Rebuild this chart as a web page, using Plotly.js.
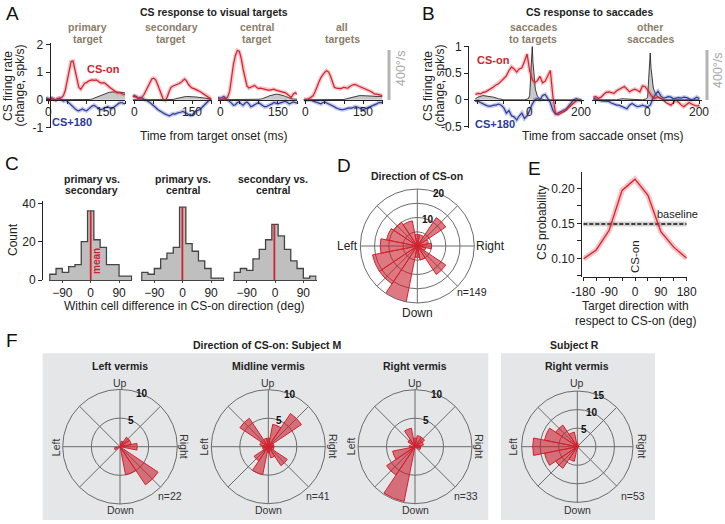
<!DOCTYPE html>
<html>
<head>
<meta charset="utf-8">
<script src="https://cdn.plot.ly/plotly-3.0.1.min.js"></script>
<style>body{margin:0;background:#fff}#fig{width:725px;height:524px}</style>
</head>
<body>
<div id="fig"></div>
<script>
// page is 725 x 524, everything placed in pixel terms then converted to paper
const W = 725, H = 524;
const fx = p => p / W;
const fy = p => 1 - p / H;
const FONT = 'Liberation Sans, Arial, sans-serif';
const RED = '#d3222e', BLUE = '#2b3a9b', BROWN = '#8c7d69', GRID = '#6b6b6b';

// ---- A: CS response to visual targets (time from target onset, ms) ----
const tA = [-5,0,5,10,15,20,25,30,35,40,45,50,55,60,65,70,75,80,85,90,95,100,105,110,115,120,125,130,135,140,145,150,155,160,165,170,175,180,185,190,195,200];

const primOn  = [0.02,0.00,0.03,0.05,0.02,0.00,0.04,0.06,0.08,0.15, 0.35,0.70,1.10,1.38,1.40,1.10,0.70,0.45,0.38,0.50, 0.60,0.62,0.68,0.70,0.72,0.70,0.72,0.68,0.62,0.60, 0.62,0.58,0.50,0.45,0.40,0.35,0.30,0.25,0.26,0.22, 0.20,0.18];
const primOpp = [0.08,0.05,0.00,0.06,0.02,-0.02,0.03,0.05,0.00,-0.05, -0.02,-0.05,-0.12,-0.20,-0.28,-0.32,-0.38,-0.40,-0.36,-0.33, -0.38,-0.40,-0.34,-0.28,-0.22,-0.20,-0.25,-0.30,-0.36,-0.35, -0.30,-0.28,-0.25,-0.30,-0.32,-0.28,-0.22,-0.18,-0.12,-0.10, -0.14,-0.15];
const primVel = [0,0,0,0,0,0,0,0,0,0, 0,0,0,0,0,0,0,0,0,0, 0,0,0,0.01,0.03,0.06,0.09,0.12,0.15,0.18, 0.21,0.23,0.25,0.27,0.28,0.29,0.29,0.28,0.28,0.27, 0.26,0.25];

const secOn  = [0.15,0.12,0.10,0.05,0.06,0.10,0.20,0.35,0.50,0.65, 0.75,0.78,0.72,0.55,0.35,0.15,0.00,-0.03,0.10,0.30, 0.45,0.50,0.52,0.55,0.58,0.62,0.70,0.75,0.68,0.55, 0.48,0.42,0.40,0.35,0.33,0.30,0.25,0.20,0.15,0.10, 0.06,0.04];
const secOpp = [0.10,0.15,0.12,0.05,0.08,0.05,0.02,0.00,-0.05,-0.10, -0.15,-0.20,-0.28,-0.35,-0.40,-0.45,-0.50,-0.52,-0.55,-0.58, -0.55,-0.50,-0.52,-0.48,-0.46,-0.45,-0.42,-0.45,-0.50,-0.55, -0.57,-0.55,-0.48,-0.40,-0.38,-0.35,-0.28,-0.20,-0.12,-0.05, 0.00,0.02];
const secVel = [0,0,0,0,0,0,0,0,0,0, 0,0,0,0,0,0,0,0,0,0, 0,0.01,0.03,0.05,0.07,0.09,0.10,0.11,0.12,0.12, 0.12,0.12,0.11,0.10,0.09,0.08,0.07,0.06,0.05,0.04, 0.03,0.03];

const cenOn  = [0.05,0.00,0.02,0.05,0.04,0.10,0.30,0.80,1.30,1.60, 1.78,1.75,1.50,1.10,0.75,0.50,0.42,0.45,0.50,0.52, 0.45,0.40,0.42,0.40,0.38,0.38,0.35,0.35,0.37,0.38, 0.35,0.33,0.32,0.30,0.28,0.25,0.20,0.15,0.08,0.20, 0.25,0.20];
const cenOpp = [0.10,0.05,0.08,0.12,0.05,0.00,-0.08,-0.12,-0.20,-0.18, -0.10,-0.08,-0.15,-0.20,-0.12,-0.08,-0.15,-0.25,-0.22,-0.18, -0.15,-0.10,-0.15,-0.20,-0.25,-0.25,-0.20,-0.18,-0.15,-0.10, -0.12,-0.15,-0.12,-0.10,-0.08,-0.05,-0.10,-0.15,-0.12,-0.08, -0.10,-0.12];
const cenVel = [0,0,0,0,0,0,0,0,0,0, 0,0,0,0,0,0,0,0,0,0, 0,0.01,0.02,0.04,0.06,0.09,0.12,0.15,0.17,0.19, 0.20,0.20,0.19,0.17,0.15,0.12,0.09,0.06,0.04,0.03, 0.02,0.02];

const allOn  = [0.00,0.00,0.02,0.05,0.10,0.15,0.30,0.50,0.65,0.80, 0.90,1.00,1.05,1.00,0.85,0.60,0.45,0.42,0.40,0.40, 0.42,0.45,0.43,0.42,0.48,0.52,0.55,0.55,0.50,0.48, 0.45,0.42,0.40,0.38,0.35,0.30,0.25,0.20,0.20,0.18, 0.16,0.15];
const allOpp = [0.00,0.00,0.00,0.00,-0.02,-0.05,-0.08,-0.10,-0.12,-0.15, -0.10,-0.08,-0.12,-0.15,-0.18,-0.20,-0.25,-0.30,-0.33,-0.35, -0.36,-0.35,-0.33,-0.30,-0.30,-0.30,-0.27,-0.25,-0.27,-0.30, -0.33,-0.35,-0.33,-0.30,-0.28,-0.25,-0.22,-0.20,-0.15,-0.10, -0.10,-0.10];
const allVel = [0,0,0,0,0,0,0,0,0,0, 0,0,0,0,0,0,0,0,0,0, 0,0.01,0.03,0.05,0.07,0.09,0.11,0.13,0.14,0.15, 0.15,0.15,0.15,0.14,0.14,0.13,0.13,0.12,0.12,0.12, 0.12,0.12];

// ---- B: CS response to saccades (time from saccade onset, ms) ----
const tB = [-210,-200,-190,-180,-170,-160,-150,-140,-130,-120,-110,-100,-90,-80,-70,-60,-50,-40,-30,-20,-10,0,10,20,30,40,50,60,70,80,90,100,110,120,130,140,150,160,170,180,190,200];
const tgtOn  = [0.10,0.12,0.11,0.14,0.15,0.18,0.20,0.24,0.28,0.30, 0.35,0.40,0.45,0.55,0.62,0.58,0.52,0.58,0.60,0.72, 0.86,0.55,0.38,0.32,0.36,0.44,0.32,0.35,0.45,0.55, 0.05,-0.25,-0.28,-0.25,-0.22,-0.20,-0.15,-0.10,-0.06,-0.02, 0.00,0.00];
const tgtOpp = [-0.03,-0.02,-0.05,-0.08,-0.10,-0.12,-0.12,-0.10,-0.10,-0.08, -0.10,-0.15,-0.25,-0.20,-0.30,-0.32,-0.38,-0.30,-0.25,-0.35, -0.30,-0.20,-0.08,0.00,0.02,0.00,0.08,0.10,0.02,-0.05, -0.20,-0.27,-0.25,-0.22,-0.20,-0.18,-0.12,-0.05,0.00,0.02, 0.00,-0.02];
const othOn  = [0.05,0.06,0.03,0.05,0.10,0.14,0.15,0.13,0.12,0.17, 0.20,0.22,0.25,0.20,0.15,0.18,0.20,0.18,0.15,0.26, 0.25,0.18,0.10,0.04,0.03,0.06,0.03,0.00,-0.05,-0.08, -0.10,-0.05,0.00,-0.05,-0.10,-0.13,-0.08,-0.05,-0.08,-0.10, -0.12,-0.10];
const othOpp = [0.03,0.02,0.00,-0.02,-0.02,-0.03,-0.03,-0.06,-0.08,-0.10, -0.10,-0.12,-0.15,-0.17,-0.10,-0.07,-0.10,-0.13,-0.12,-0.10, -0.12,-0.13,-0.10,0.02,0.10,0.16,0.08,0.03,0.04,0.06, 0.05,0.02,0.03,0.04,0.03,0.05,0.04,0.02,0.00,0.02, 0.05,0.02];
// eye speed, drawn in the same units as the firing rate
const tVel   = [-210,-200,-180,-160,-140,-120,-100,-20,-5,0,4,8,10,13,17,22,30,40,60,200];
const tgtVel = [0.02,0.05,0.08,0.07,0.05,0.02,0.00,0.00,0.02,0.08,0.50,0.95,1.00,0.70,0.40,0.20,0.07,0.02,0.00,0.00];
const othVel = [0.00,0.00,0.00,0.00,0.00,0.00,0.02,0.00,0.02,0.05,0.40,0.85,0.88,0.60,0.40,0.22,0.12,0.05,0.00,0.00];

// ---- C: within cell difference histograms ----
const hBins = [-120,-100,-80,-60,-40,-20,0,20,40,60,80,100,120];
const h1 = [3,6,4,7,8,20,36,21,17,8,8,2,2];
const h2 = [4,3,6,11,14,17,38,19,15,10,6,1,1];
const h3 = [4,6,5,11,16,21,29,23,16,10,6,1,2];
const hMean = [0,-1,-2];

// ---- E: CS probability vs target direction ----
const eDir = [-180,-135,-90,-45,0,45,90,135,180];
const eProb = [0.099,0.112,0.140,0.197,0.213,0.190,0.138,0.116,0.100];
const eBase = 0.149;

// ---- D, F: direction of CS-on (rose counts) ----
const pBins = [0,22.5,45,67.5,90,112.5,135,157.5,180,202.5,225,247.5,270,292.5,315,337.5];
const roseAll   = [5,4,12,4,4,9,10,11,13,16,16,21,4,5,12,3];
const roseLeft  = [3,2,2,1,0,0,0,0,0,1,0,0,0,5,8,0];
const roseMid   = [1,1,7,4,1.5,1.5,6,1.5,1,1,3,5,1,2,4,1];
const roseRight = [1,1.5,2,2,1.5,3.3,1.5,0,1,4,6,9.8,0,0,0,1];
const roseSubjR = [0.5,0,0.5,0.5,1,4,7,9,12,9,7,4,0.5,0,0,0];

// ---------------- traces ----------------
let data = [];

function velFill(xa, ya, t, v) {
  return {x: t, y: v, xaxis: xa, yaxis: ya, mode: 'lines', fill: 'tozeroy',
          fillcolor: '#c8c8c8', line: {color: '#111', width: 0.8}, hoverinfo: 'skip'};
}
function rateLines(xa, ya, t, on, opp) {
  const mk = (y, c, w) => ({x: t, y: y, xaxis: xa, yaxis: ya, mode: 'lines',
                            line: {color: c, width: w}, hoverinfo: 'skip'});
  return [mk(opp, 'rgba(60,75,180,0.3)', 4), mk(opp, BLUE, 1.2),
          mk(on, 'rgba(220,60,70,0.3)', 4), mk(on, RED, 1.2)];
}

data.push(velFill('x', 'y', tA, primVel), ...rateLines('x', 'y', tA, primOn, primOpp));
data.push(velFill('x2', 'y', tA, secVel), ...rateLines('x2', 'y', tA, secOn, secOpp));
data.push(velFill('x3', 'y', tA, cenVel), ...rateLines('x3', 'y', tA, cenOn, cenOpp));
data.push(velFill('x4', 'y', tA, allVel), ...rateLines('x4', 'y', tA, allOn, allOpp));
data.push(velFill('x5', 'y2', tVel, tgtVel), ...rateLines('x5', 'y2', tB, tgtOn, tgtOpp));
data.push(velFill('x6', 'y2', tVel, othVel), ...rateLines('x6', 'y2', tB, othOn, othOpp));

// histograms as filled stairs, bins 20 deg wide
function stairs(xa, counts, mean) {
  let xs = [hBins[0] - 10], ys = [0];
  for (let i = 0; i < counts.length; i++) { xs.push(hBins[i] - 10); ys.push(counts[i]); }
  xs.push(hBins[hBins.length - 1] + 10); ys.push(0);
  return [
    {x: xs, y: ys, xaxis: xa, yaxis: 'y3', mode: 'lines', line: {shape: 'hv', color: '#444', width: 1.3},
     fill: 'tozeroy', fillcolor: '#bfbfbf', hoverinfo: 'skip'},
    {x: [mean, mean], y: [0, Math.max(...counts)], xaxis: xa, yaxis: 'y3', mode: 'lines',
     line: {color: RED, width: 1.8}, hoverinfo: 'skip'}
  ];
}
data.push(...stairs('x7', h1, hMean[0]), ...stairs('x8', h2, hMean[1]), ...stairs('x9', h3, hMean[2]));

// E
data.push({x: [eDir[0], eDir[eDir.length - 1]], y: [eBase, eBase], xaxis: 'x10', yaxis: 'y4', mode: 'lines',
           line: {color: 'rgba(120,120,120,0.35)', width: 5}, hoverinfo: 'skip'});
data.push({x: [eDir[0], eDir[eDir.length - 1]], y: [eBase, eBase], xaxis: 'x10', yaxis: 'y4', mode: 'lines',
           line: {color: '#111', width: 1.3, dash: '4px,2px'}, hoverinfo: 'skip'});
data.push({x: eDir, y: eProb, xaxis: 'x10', yaxis: 'y4', mode: 'lines',
           line: {color: 'rgba(220,60,70,0.3)', width: 5.5}, hoverinfo: 'skip'});
data.push({x: eDir, y: eProb, xaxis: 'x10', yaxis: 'y4', mode: 'lines',
           line: {color: RED, width: 1.3}, hoverinfo: 'skip'});

// roses
function rose(sub, r) {
  return {type: 'barpolar', subplot: sub, r: r, theta: pBins, width: 22.5,
          marker: {color: 'rgba(200,30,45,0.6)', line: {color: RED, width: 1}}, hoverinfo: 'skip'};
}
data.push(rose('polar', roseAll), rose('polar2', roseLeft), rose('polar3', roseMid),
          rose('polar4', roseRight), rose('polar5', roseSubjR));

// ---------------- axes ----------------
function timeAxis(x0, x1, range, tv, ypos) {
  return {domain: [fx(x0), fx(x1)], range: range, anchor: 'free', position: fy(ypos),
          showline: true, linecolor: '#222', linewidth: 1, ticks: 'outside', ticklen: 3, tickcolor: '#222',
          tickvals: tv, showticklabels: false, showgrid: false, zeroline: false};
}
function leftAxis(y0, y1, range, xpos, tv, tt) {
  return {domain: [fy(y1), fy(y0)], range: range, anchor: 'free', position: fx(xpos),
          showline: true, linecolor: '#222', linewidth: 1, ticks: 'outside', ticklen: 4, tickcolor: '#222',
          tickvals: tv, ticktext: tt, showgrid: false, zeroline: false, tickfont: {size: 12}};
}
function histAxis(x0, x1) {
  return {domain: [fx(x0), fx(x1)], range: [-132, 132], anchor: 'y3', showline: true, linecolor: '#444',
          ticks: 'outside', ticklen: 2, tickcolor: '#444', tickvals: [-90, 0, 90], showgrid: false,
          zeroline: false, tickfont: {size: 12}};
}
function polarCfg(cx, cy, rad, rmax, tv) {
  return {
    domain: {x: [fx(cx - rad), fx(cx + rad)], y: [fy(cy + rad), fy(cy - rad)]},
    bgcolor: 'rgba(0,0,0,0)',
    radialaxis: {range: [0, rmax], tickvals: tv, showticklabels: false, showline: false, ticks: '',
                 gridcolor: GRID},
    angularaxis: {rotation: 0, direction: 'counterclockwise', tickvals: [0, 45, 90, 135, 180, 225, 270, 315],
                  showticklabels: false, ticks: '', gridcolor: GRID, linecolor: GRID, showline: true}
  };
}

const zeroPy = 99.8;
const tickA = [0, 50, 100, 150, 200];
const tickB = [-200, -100, 0, 100, 200];

// rose panels: [subplot, centre x, centre y, radius px, radial max, rings, labelled rings]
const roses = [
  ['polar',  417.3, 246,   57,   20, [5, 10, 15, 20], [10, 20]],
  ['polar2', 120,   446.7, 57.3, 10, [5, 10], [5, 10]],
  ['polar3', 268.3, 446.7, 57,   10, [5, 10], [5, 10]],
  ['polar4', 415,   446.7, 57,   10, [5, 10], [5, 10]],
  ['polar5', 577.3, 446.7, 55.7, 15, [5, 10, 15], [5, 10, 15]]
];

let layout = {
  width: W, height: H, margin: {l: 0, r: 0, t: 0, b: 0},
  paper_bgcolor: '#fff', plot_bgcolor: 'rgba(0,0,0,0)', showlegend: false, hovermode: false,
  font: {family: FONT, size: 12, color: '#222'},
  xaxis:  timeAxis(46.1, 125, [-5, 200], tickA, zeroPy),
  xaxis2: timeAxis(132.6, 211.5, [-5, 200], tickA, zeroPy),
  xaxis3: timeAxis(218.1, 297, [-5, 200], tickA, zeroPy),
  xaxis4: timeAxis(303.6, 382.5, [-5, 200], tickA, zeroPy),
  yaxis:  leftAxis(43, 128, [-1.02, 2.05], 49.5, [-1, 0, 1, 2], ['-1', '0', '1', '2']),
  xaxis5: timeAxis(474, 584, [-215, 210], tickB, zeroPy),
  xaxis6: timeAxis(592, 702, [-215, 210], tickB, zeroPy),
  yaxis2: leftAxis(45.5, 127.5, [-0.52, 1.02], 468, [-0.5, 0, 0.5, 1], ['-0.5', '0', '0.5', '1']),
  xaxis7: histAxis(49.1, 132.3),
  xaxis8: histAxis(141.1, 224.3),
  xaxis9: histAxis(233.4, 316.6),
  yaxis3: leftAxis(201, 280, [0, 41.2], 42, [0, 20, 40], ['0', '20', '40']),
  xaxis10: {domain: [fx(583.3), fx(686.7)], range: [-180, 180], anchor: 'y4', showline: true, linecolor: '#222',
            ticks: 'outside', ticklen: 3, tickcolor: '#222',
            tickvals: [-180, -135, -90, -45, 0, 45, 90, 135, 180],
            ticktext: ['-180', '', '-90', '', '0', '', '90', '', '180'],
            showgrid: false, zeroline: false, tickfont: {size: 12}},
  yaxis4: leftAxis(172, 277.3, [0.0729, 0.2233], 581, [0.075, 0.1, 0.125, 0.15, 0.175, 0.2],
                   ['', '0.10', '', '0.15', '', '0.20']),
  shapes: [
    {type: 'rect', xref: 'paper', yref: 'paper', x0: fx(42.7), x1: fx(488.3), y0: fy(520), y1: fy(353.3),
     fillcolor: '#e5e6e8', line: {width: 0}, layer: 'below'},
    {type: 'rect', xref: 'paper', yref: 'paper', x0: fx(501), x1: fx(655), y0: fy(520), y1: fy(353.3),
     fillcolor: '#e5e6e8', line: {width: 0}, layer: 'below'},
    {type: 'line', xref: 'paper', yref: 'paper', x0: fx(389), x1: fx(389), y0: fy(100), y1: fy(50),
     line: {color: '#b3b3b3', width: 3}},
    {type: 'line', xref: 'paper', yref: 'paper', x0: fx(707), x1: fx(707), y0: fy(100), y1: fy(50),
     line: {color: '#b3b3b3', width: 3}}
  ],
  annotations: []
};
roses.forEach(p => { layout[p[0]] = polarCfg(p[1], p[2], p[3], p[4], p[5]); });

// text labels: [text, x px, y px, size, color, angle]
const GRAYTXT = '#a8a8a8', DARK = '#222';
const notes = [
  ['A', 12, 14, 19, '#111', 0],
  ['<b>CS response to visual targets</b>', 214, 12, 10.5, DARK, 0],
  ['<b>CS-on</b>', 103, 69, 11, RED, 0],
  ['<b>CS+180</b>', 72, 122, 11, BLUE, 0],
  ['CS firing rate', 8, 86, 12, DARK, -90],
  ['(change, spk/s)', 19.5, 86, 12, DARK, -90],
  ['Time from target onset (ms)', 214, 136, 12, DARK, 0],
  ['400°/s', 401, 68, 12.5, GRAYTXT, -90],

  ['B', 428, 14, 19, '#111', 0],
  ['<b>CS response to saccades</b>', 589, 12, 10.5, DARK, 0],
  ['CS firing rate', 428, 86, 12, DARK, -90],
  ['(change, spk/s)', 439.5, 86, 12, DARK, -90],
  ['<b>CS-on</b>', 493, 60, 11, RED, 0],
  ['<b>CS+180</b>', 495, 124, 11, BLUE, 0],
  ['Time from saccade onset (ms)', 603, 136, 12, DARK, 0],
  ['400°/s', 718, 70, 12.5, GRAYTXT, -90],

  ['C', 12, 163, 19, '#111', 0],
  ['Count', 13, 240, 12, DARK, -90],
  ['<b>mean</b>', 96, 261, 10, RED, -90],
  ['Within cell difference in CS-on direction (deg)', 184, 306, 12, DARK, 0],

  ['D', 344, 166, 19, '#111', 0],
  ['<b>Direction of CS-on</b>', 417, 176, 10.5, DARK, 0],
  ['Left', 347, 246, 12, DARK, 0],
  ['Right', 490, 246, 12, DARK, 0],
  ['Down', 417, 313, 12, DARK, 0],
  ['n=149', 472, 292, 10.5, DARK, 0],

  ['E', 534, 168, 19, '#111', 0],
  ['CS probability', 542, 223, 12, DARK, -90],
  ['baseline', 677, 214, 11, DARK, 0],
  ['CS-on', 635, 257, 11.5, DARK, -90],
  ['Target direction with', 635, 306, 12, DARK, 0],
  ['respect to CS-on (deg)', 635, 320.5, 12, DARK, 0],

  ['F', 12, 340, 19, '#111', 0],
  ['<b>Direction of CS-on: Subject M</b>', 267, 345, 10.5, DARK, 0],
  ['<b>Subject R</b>', 574, 345, 10.5, DARK, 0]
];
// two-line bold subtitles: [line1, line2, x, colour]
const subtitles = [
  ['primary', 'target', 87.5, BROWN], ['secondary', 'target', 171, BROWN],
  ['central', 'target', 257, BROWN], ['all', 'targets', 342, BROWN],
  ['saccades', 'to targets', 533, BROWN], ['other', 'saccades', 650, BROWN]
];
subtitles.forEach(s => {
  notes.push(['<b>' + s[0] + '</b>', s[2], 27, 10.5, s[3], 0]);
  notes.push(['<b>' + s[1] + '</b>', s[2], 38.5, 10.5, s[3], 0]);
});
const histTitles = [['primary vs.', 'secondary', 91.5], ['primary vs.', 'central', 183], ['secondary vs.', 'central', 273]];
histTitles.forEach(s => {
  notes.push(['<b>' + s[0] + '</b>', s[2], 178.5, 10.5, DARK, 0]);
  notes.push(['<b>' + s[1] + '</b>', s[2], 190.5, 10.5, DARK, 0]);
});
// time tick labels under the zero lines (x of zero in px, px per ms)
[48, 134.5, 220, 305.5].forEach(z => {
  notes.push(['0', z, 112, 12, DARK, 0]); notes.push(['150', z + 150 * 0.385, 112, 12, DARK, 0]);
});
[529.6, 647.6].forEach(z => {
  notes.push(['0', z, 112, 12, DARK, 0]); notes.push(['200', z + 200 * 0.259, 112, 12, DARK, 0]);
});
// ring labels of the roses, placed where each ring crosses the 67.5 deg spoke
roses.forEach(p => {
  const a = 67.5 * Math.PI / 180;
  p[6].forEach(v => {
    const d = p[3] * v / p[4];
    notes.push(['<b>' + v + '</b>', p[1] + d * Math.cos(a), p[2] - d * Math.sin(a), 10, '#111', 0]);
  });
});

// per rose panel in F: title, centre x, n label x
const fPanels = [['Left vermis', 120, 'n=22', 169.5], ['Midline vermis', 268.3, 'n=41', 318],
                 ['Right vermis', 415, 'n=33', 466], ['Right vermis', 577.3, 'n=53', 633]];
fPanels.forEach(p => {
  notes.push(['<b>' + p[0] + '</b>', p[1], 366, 10.5, DARK, 0]);
  notes.push(['Up', p[1], 382.7, 10.5, '#333', 0]);
  notes.push(['Down', p[1], 510, 10.5, '#333', 0]);
  notes.push(['Left', p[1] - 64.5, 446.7, 10.5, '#333', -90]);
  notes.push(['Right', p[1] + 64.5, 446.7, 10.5, '#333', 90]);
  notes.push([p[2], p[3], 496, 10.5, '#333', 0]);
});

layout.annotations = notes.map(n => ({
  text: n[0], x: fx(n[1]), y: fy(n[2]), xref: 'paper', yref: 'paper',
  xanchor: 'center', yanchor: 'middle', showarrow: false, textangle: n[5],
  font: {family: FONT, size: n[3], color: n[4]}
}));

Plotly.newPlot('fig', data, layout, {displayModeBar: false, staticPlot: true});
</script>
</body>
</html>
